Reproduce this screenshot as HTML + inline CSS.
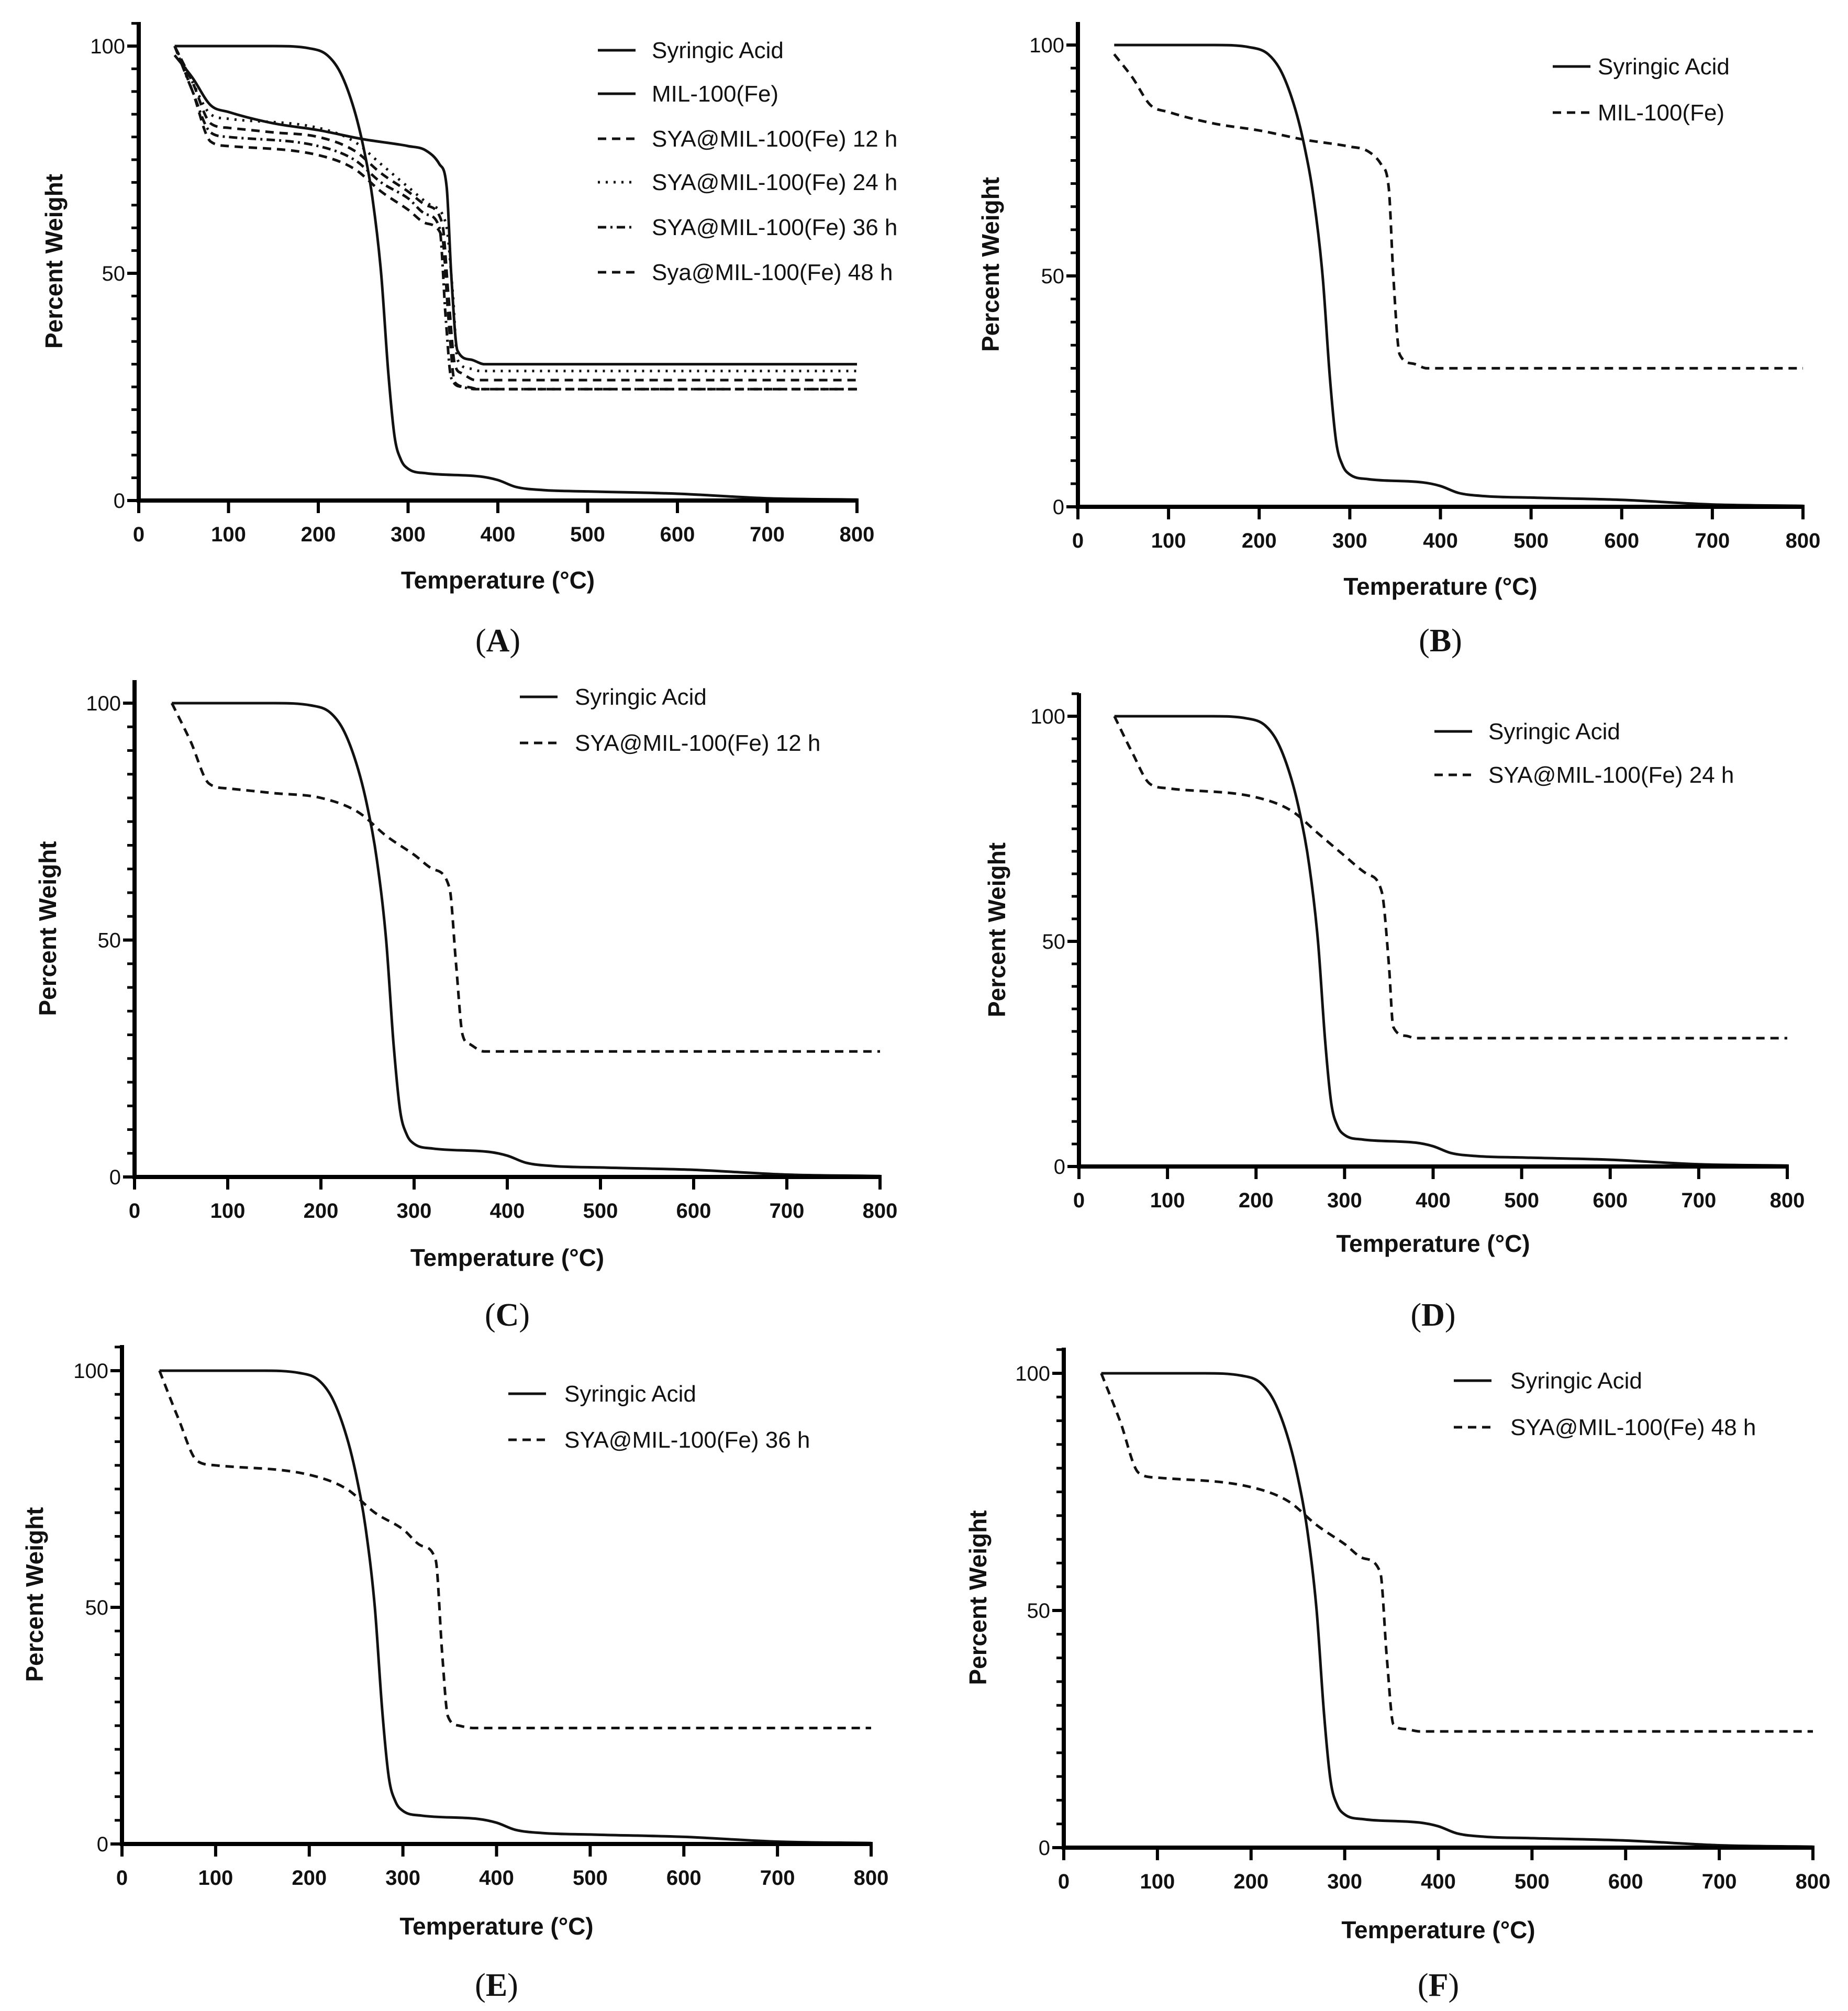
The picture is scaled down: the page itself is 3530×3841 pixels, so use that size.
<!DOCTYPE html>
<html><head><meta charset="utf-8"><style>
html,body{margin:0;padding:0;background:#fff;}
svg{display:block;}
text{font-family:"Liberation Sans",Arial,sans-serif;fill:#111;}
</style></head><body>
<svg id="fig" width="3530" height="3841" viewBox="0 0 3530 3841" xmlns="http://www.w3.org/2000/svg"></svg>
<script>
// ---- data (temperature °C, percent weight) ----
const syaT = [40,150,190,210,225,240,250,260,270,278,285,292,300,320,380,400,420,450,500,600,700,800];
const syaW = [100,100,99.5,98,94,86,78,67,50,28,14,9,7,6,5.3,4.5,3,2.3,2,1.5,0.5,0.2];
const milT = [40,60,80,100,150,200,250,300,320,335,343,348,355,370,385,800];
const milW = [98,93,87,85.5,83,81.5,79.5,78,77,74,69,50,33,31,30,30];
const h12T = [40,60,80,100,150,200,240,270,300,320,338,345,352,360,375,800];
const h12W = [100,92,83,82,81,80,77,72,68,65,61,45,30,28,26.5,26.5];
const h24T = [40,60,80,100,200,240,270,300,325,342,350,355,370,380,800];
const h24W = [100,92,85,84,82,79,74,69,65,61,45,31,29,28.5,28.5];
const h36T = [40,60,80,100,200,240,270,300,320,335,342,348,360,375,800];
const h36W = [100,90,81,80,78,75,70,66.5,63,60,40,27,25,24.5,24.5];
const h48T = [40,60,80,100,200,240,270,300,320,338,345,352,365,380,800];
const h48W = [100,90,79,78,76,73,68,64,61,58,40,26,25,24.5,24.5];
const xTicks = [0,100,200,300,400,500,600,700,800];
const yTicks = [0,50,100];

const NS="http://www.w3.org/2000/svg";
const svg=document.getElementById('fig');
function mk(tag,attrs,parent){const e=document.createElementNS(NS,tag);for(const k in attrs)e.setAttribute(k,attrs[k]);(parent||svg).appendChild(e);return e;}

function smoothPath(xs,ys){
  const n=xs.length,d=[],m=[];
  for(let i=0;i<n-1;i++)d.push((ys[i+1]-ys[i])/(xs[i+1]-xs[i]));
  m[0]=d[0];m[n-1]=d[n-2];
  for(let i=1;i<n-1;i++){m[i]=(d[i-1]*d[i]<=0)?0:(d[i-1]+d[i])/2;}
  for(let i=0;i<n-1;i++){
    if(d[i]===0){m[i]=0;m[i+1]=0;continue;}
    const a=m[i]/d[i],b=m[i+1]/d[i],s=a*a+b*b;
    if(s>9){const t=3/Math.sqrt(s);m[i]=t*a*d[i];m[i+1]=t*b*d[i];}
  }
  let p='M'+xs[0].toFixed(1)+','+ys[0].toFixed(1);
  for(let i=0;i<n-1;i++){
    const h=(xs[i+1]-xs[i])/3;
    p+=' C'+(xs[i]+h).toFixed(1)+','+(ys[i]+m[i]*h).toFixed(1)+' '+(xs[i+1]-h).toFixed(1)+','+(ys[i+1]-m[i+1]*h).toFixed(1)+' '+xs[i+1].toFixed(1)+','+ys[i+1].toFixed(1);
  }
  return p;
}

const styles={solid:'',dash:'16,11',dot:'4,11',dashdot:'16,8,4,8'};

const panels=[
 {id:'a',cap:'(A)',x0:265,x1:1637,y100:88,y0:956,top:42,yt:103,xt:1108,cy:1222,
  legX:1142,legTx:1245,legY:[96,179,265,348,434,520],
  series:[['Syringic Acid',syaT,syaW,'solid'],['MIL-100(Fe)',milT,milW,'solid'],['SYA@MIL-100(Fe) 12 h',h12T,h12W,'dash'],['SYA@MIL-100(Fe) 24 h',h24T,h24W,'dot'],['SYA@MIL-100(Fe) 36 h',h36T,h36W,'dashdot'],['Sya@MIL-100(Fe) 48 h',h48T,h48W,'dash']]},
 {id:'b',cap:'(B)',x0:2059,x1:3444,y100:86,y0:968,top:42,yt:1892,xt:1120,cy:1222,
  legX:2966,legTx:3052,legY:[127,215],
  series:[['Syringic Acid',syaT,syaW,'solid'],['MIL-100(Fe)',milT,milW,'dash']]},
 {id:'c',cap:'(C)',x0:257,x1:1681,y100:1343,y0:2248,top:1299,yt:91,xt:2402,cy:2510,
  legX:993,legTx:1098,legY:[1331,1419],
  series:[['Syringic Acid',syaT,syaW,'solid'],['SYA@MIL-100(Fe) 12 h',h12T,h12W,'dash']]},
 {id:'d',cap:'(D)',x0:2061,x1:3414,y100:1368,y0:2228,top:1324,yt:1904,xt:2375,cy:2510,
  legX:2740,legTx:2843,legY:[1397,1480],
  series:[['Syringic Acid',syaT,syaW,'solid'],['SYA@MIL-100(Fe) 24 h',h24T,h24W,'dash']]},
 {id:'e',cap:'(E)',x0:233,x1:1664,y100:2618,y0:3522,top:2569,yt:66,xt:3679,cy:3790,
  legX:971,legTx:1078,legY:[2662,2750],
  series:[['Syringic Acid',syaT,syaW,'solid'],['SYA@MIL-100(Fe) 36 h',h36T,h36W,'dash']]},
 {id:'f',cap:'(F)',x0:2032,x1:3463,y100:2623,y0:3529,top:2574,yt:1868,xt:3686,cy:3790,
  legX:2777,legTx:2885,legY:[2637,2726],
  series:[['Syringic Acid',syaT,syaW,'solid'],['SYA@MIL-100(Fe) 48 h',h48T,h48W,'dash']]}
];

panels.forEach(p=>{
  const g=mk('g',{});
  
  
  const sx=t=>p.x0+(p.x1-p.x0)*t/800;
  const sy=w=>p.y0+(p.y100-p.y0)*w/100;
  p.series.forEach((s,i)=>{
    const d=smoothPath(s[1].map(sx),s[2].map(sy));
    const pl=mk('path',{d:d,fill:'none',stroke:'#111','stroke-width':5,'stroke-linejoin':'round','stroke-dasharray':styles[s[3]]},g);
    
    
  });
  const ax=mk('g',{},g);
  
  
  mk('line',{x1:p.x0,y1:p.top,x2:p.x0,y2:p.y0+4,stroke:'#000','stroke-width':8},ax);
  mk('line',{x1:p.x0-4,y1:p.y0,x2:p.x1+3,y2:p.y0,stroke:'#000','stroke-width':8},ax);
  for(let v=5;v<=105;v+=5){const y=sy(v);if(y<p.top)break;mk('line',{x1:p.x0-14,y1:y,x2:p.x0,y2:y,stroke:'#000','stroke-width':5},ax);}
  yTicks.forEach(v=>{
    mk('line',{x1:p.x0-22,y1:sy(v),x2:p.x0,y2:sy(v),stroke:'#000','stroke-width':6},ax);
    const t=mk('text',{x:p.x0-26,y:sy(v)+14,'text-anchor':'end','font-size':40},ax);t.textContent=v;
    
    
  });
  xTicks.forEach(v=>{
    mk('line',{x1:sx(v),y1:p.y0,x2:sx(v),y2:p.y0+24,stroke:'#000','stroke-width':6},ax);
    const t=mk('text',{x:sx(v),y:p.y0+78,'text-anchor':'middle','font-size':40,'font-weight':'bold'},ax);t.textContent=v;
    
    
  });
  const yt=mk('text',{x:p.yt,y:(p.y0+p.top)/2,'text-anchor':'middle','font-size':46,'font-weight':'bold',transform:`rotate(-90 ${p.yt} ${(p.y0+p.top)/2})`,dy:16},g);
  yt.textContent='Percent Weight';
  
  
  const xt=mk('text',{x:(p.x0+p.x1)/2,y:p.xt+16,'text-anchor':'middle','font-size':46,'font-weight':'bold'},g);
  xt.textContent='Temperature (°C)';
  
  
  const cap=mk('text',{x:(p.x0+p.x1)/2,y:p.cy+22,'text-anchor':'middle','font-size':62,style:'font-family:"Liberation Serif",serif'},g);
  cap.innerHTML='(<tspan font-weight="bold">'+p.cap.slice(1,-1)+'</tspan>)';
  
  
  p.series.forEach((s,i)=>{
    const le=mk('g',{},g);
    
    
    const y=p.legY[i];
    mk('line',{x1:p.legX,y1:y,x2:p.legX+72,y2:y,stroke:'#111','stroke-width':5,'stroke-dasharray':styles[s[3]]},le);
    const t=mk('text',{x:p.legTx,y:y+15,'font-size':44},le);t.textContent=s[0];
  });
});
</script>
</body></html>
